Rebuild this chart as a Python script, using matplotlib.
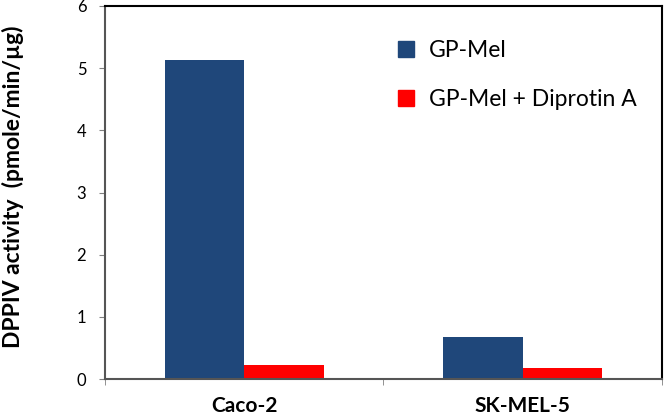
import matplotlib
matplotlib.use("Agg")
import matplotlib.pyplot as plt
import numpy as np
from matplotlib.lines import Line2D

categories = ["Caco-2", "SK-MEL-5"]
series_names = ["GP-Mel", "GP-Mel + Diprotin A"]
gp_mel = [5.13, 0.67]
gp_mel_dip = [0.22, 0.17]
yticks = [0, 1, 2, 3, 4, 5, 6]

plt.rcParams['font.family'] = ['Lato', 'DejaVu Sans']

fig = plt.figure(figsize=(6.66, 4.16), dpi=100)
ax = fig.add_axes([105/666, 1-379/416, (662-105)/666, (379-6)/416])

x = np.arange(len(categories))
w = 0.285
ax.bar(x - w/2, gp_mel, width=w, color="#1F477A", label=series_names[0])
ax.bar(x + w/2, gp_mel_dip, width=w, color="#FF0000", label=series_names[1])

ax.set_xlim(-0.5, 1.5)
ax.set_ylim(0, 6)
ax.set_yticks(yticks)
ax.set_yticklabels([str(t) for t in yticks], fontsize=12)
ax.set_xticks(x)
ax.set_xticklabels(categories, fontsize=15, fontweight='bold')
ax.tick_params(axis='x', length=0, pad=12)
ax.set_xticks([-0.5, 0.5, 1.5], minor=True)
ax.tick_params(axis='x', which='minor', length=4.5, color='#808080', direction='out')
ax.tick_params(axis='y', length=4.5, color='#808080', direction='out', pad=9)

for s in ['left', 'bottom']:
    ax.spines[s].set_color('#555555')
    ax.spines[s].set_linewidth(1.5)
for s in ['top', 'right']:
    ax.spines[s].set_color('black')
    ax.spines[s].set_linewidth(1.5)

ax.set_ylabel("DPPIV activity  (pmole/min/µg)", fontsize=16.5, fontweight='bold')
ax.yaxis.set_label_coords(-0.145, 0.515)

handles = [Line2D([], [], marker='s', linestyle='none', markersize=11, color="#1F477A"),
           Line2D([], [], marker='s', linestyle='none', markersize=11, color="#FF0000")]
leg = ax.legend(handles, series_names, loc='upper left', bbox_to_anchor=(0.483, 0.965),
                frameon=False, fontsize=16.5, labelspacing=1.22, handletextpad=0.5,
                handlelength=1.0)

fig.savefig("out.png", dpi=100)
